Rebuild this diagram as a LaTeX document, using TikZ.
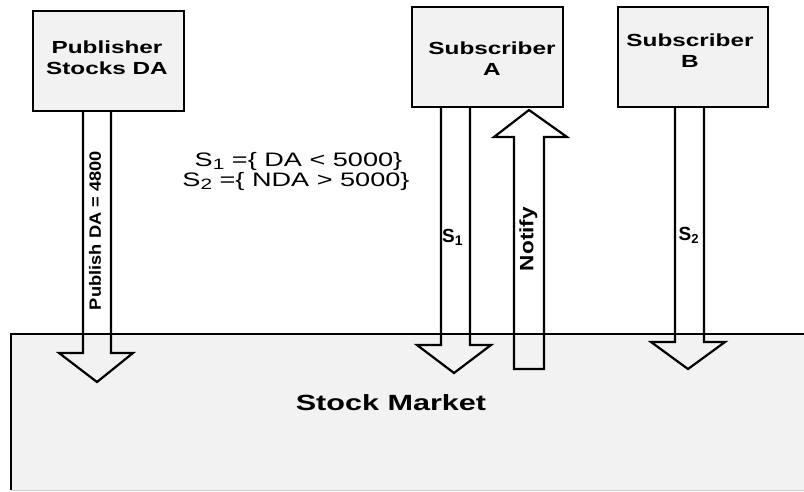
\documentclass[tikz,border=0pt]{standalone}
\usepackage{fontspec}
\setmainfont{Liberation Sans}[FakeStretch=1.39]
\newfontfamily\plainsans{Liberation Sans}
\usepackage{graphicx}
\definecolor{boxgrey}{HTML}{F2F2F2}
\definecolor{edgegrey}{HTML}{D0D0D0}
\newcommand\lowsub[3]{\raisebox{-#2}{\fontsize{#1}{#1}\selectfont #3}}
\tikzset{
  actorbox/.style={draw=black, line width=2.4pt, fill=boxgrey, inner sep=0pt, minimum height=100pt},
  actortext/.style={inner sep=0pt, align=center, font=\fontsize{17.5}{21}\selectfont\bfseries},
  deftext/.style={inner sep=0pt, anchor=base, font=\fontsize{19.5}{19.5}\selectfont},
  arrowlabel/.style={inner sep=0pt, anchor=base west, font=\plainsans\fontsize{19}{19}\selectfont\bfseries},
  blockarrow/.style={draw=black, line width=2.2pt, line join=miter},
  vtext/.style={inner sep=0pt}
}
\begin{document}
\begin{tikzpicture}[x=1pt,y=-1pt]
\useasboundingbox (0,0) rectangle (804,491);
% stock market area
\node[fill=boxgrey, inner sep=0pt, minimum width=795pt, minimum height=156pt, anchor=north west] (market) at (11,334) {};
\draw[edgegrey, line width=1.2pt] (market.south west) -- (market.south east);
\draw[black, line width=2.2pt] (market.north east) -- (market.north west) -- (market.south west);
\node[inner sep=0pt, font=\fontsize{22}{22}\selectfont\bfseries] (markettext) at (391,403) {Stock Market};

% actors
\node[actorbox, minimum width=151pt] (pub) at (108.5,61) {};
\node[actortext] (pubtext) at (107,58) {Publisher\\Stocks DA};
\node[actorbox, minimum width=151pt] (subA) at (487.5,57) {};
\node[actortext] (subAtext) at (492,58.5) {Subscriber\\A};
\node[actorbox, minimum width=150pt] (subB) at (693,57) {};
\node[actortext] (subBtext) at (690,51) {Subscriber\\B};

% block arrows
\draw[blockarrow] (83,111) -- (83,353) -- (59,353) -- (97,382) -- (133,353) -- (111,353) -- (111,111);
\draw[blockarrow] (441,107) -- (441,345) -- (417,345) -- (454,373) -- (491,345) -- (470,345) -- (470,107);
\draw[blockarrow] (514,369) -- (514,137) -- (494,137) -- (529,110) -- (567,137) -- (544,137) -- (544,369) -- cycle;
\draw[blockarrow] (675,107) -- (675,342) -- (651,342) -- (688,369) -- (725,342) -- (704,342) -- (704,107);

% arrow labels
\node[vtext] (publabel) at (95,230.5) {\resizebox*{12pt}{159pt}{\rotatebox{90}{\plainsans\bfseries Publish DA = 4800}}};
\node[vtext] (notifylabel) at (528.5,239) {\resizebox*{18pt}{64pt}{\rotatebox{90}{\plainsans\bfseries Notify}}};
\node[arrowlabel] (s1label) at (442,242) {S\lowsub{14}{3pt}{1}};
\node[arrowlabel] (s2label) at (678.5,240) {S\lowsub{13}{3pt}{2}};

% subscription definitions
\node[deftext] (def1) at (298.5,166.5) {S\lowsub{15}{3pt}{1} =\{ DA < 5000\}};
\node[deftext] (def2) at (296,186) {S\lowsub{15}{3pt}{2} =\{ NDA > 5000\}};
\end{tikzpicture}
\end{document}
